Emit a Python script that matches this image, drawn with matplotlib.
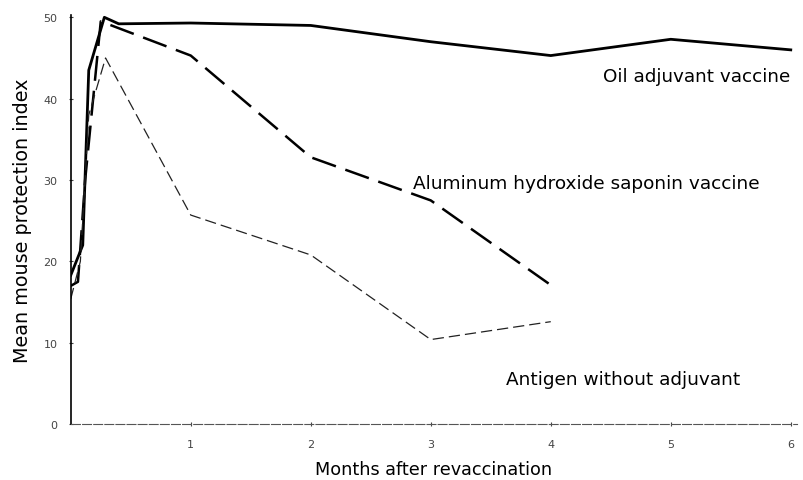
import matplotlib.pyplot as plt

# data
oil_months = [0, 0.1, 0.15, 0.28, 0.4, 1, 2, 3, 4, 5, 6]
oil_index = [18.3, 22, 43.5, 50, 49.2, 49.3, 49, 47, 45.3, 47.3, 46]

alum_months = [0, 0.06, 0.12, 0.25, 1, 2, 3, 4]
alum_index = [17, 17.5, 30, 49.5, 45.3, 32.8, 27.5, 17.1]

antigen_months = [0, 0.08, 0.15, 0.29, 1, 2, 3, 4]
antigen_index = [15.4, 20, 38, 45, 25.7, 20.8, 10.4, 12.6]

x_ticks = [1, 2, 3, 4, 5, 6]
y_ticks = [0, 10, 20, 30, 40, 50]

fig = plt.figure(figsize=(8.04, 4.81), dpi=100)
ax = fig.add_axes([0.088, 0.116, 0.903, 0.851])

ax.plot(oil_months, oil_index, color='black', linewidth=2)
ax.plot(alum_months, alum_index, color='black', linewidth=1.8, dashes=(10, 4))
ax.plot(antigen_months, antigen_index, color='#222222', linewidth=0.9, dashes=(9, 4))

ax.text(5.995, 42.8, 'Oil adjuvant vaccine', ha='right', va='center', fontsize=13.2)
ax.text(4.3, 29.6, 'Aluminum hydroxide saponin vaccine', ha='center', va='center', fontsize=13.3)
ax.text(4.6, 5.6, 'Antigen without adjuvant', ha='center', va='center', fontsize=13.3)

ax.set_xlim(0, 6.05)
ax.set_ylim(0, 50.3)
ax.set_xticks(x_ticks)
ax.set_yticks(y_ticks)
ax.tick_params(axis='both', labelsize=8, colors='#444444', length=3, direction='inout')
ax.tick_params(axis='y', pad=8)
ax.tick_params(axis='x', pad=9)
ax.spines['top'].set_visible(False)
ax.spines['right'].set_visible(False)
ax.spines['left'].set_linewidth(1.2)
ax.spines['bottom'].set_linewidth(0.8)
ax.spines['bottom'].set_color('#555555')
ax.spines['bottom'].set_linestyle((0, (8, 2)))

ax.set_xlabel('Months after revaccination', fontsize=12.7, labelpad=8)
ax.set_ylabel('Mean mouse protection index', fontsize=13.8, labelpad=8)

fig.savefig('out.png', dpi=100)
